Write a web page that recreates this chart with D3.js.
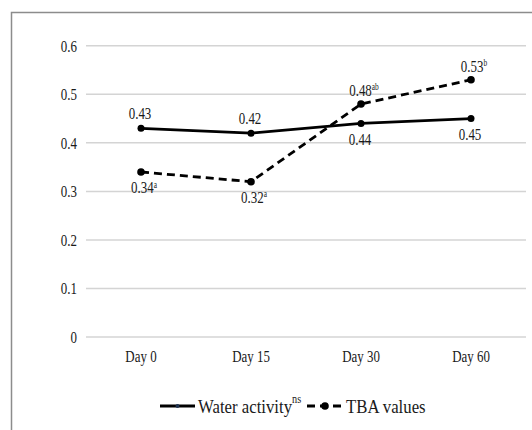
<!DOCTYPE html>
<html>
<head>
<meta charset="utf-8">
<script src="https://cdn.jsdelivr.net/npm/d3@7"></script>
<style>
  body { margin: 0; background: #fff; }
  text { font-family: "Liberation Serif", "DejaVu Serif", serif; fill: #1a1a1a; }
</style>
</head>
<body>
<div id="chartDiv"></div>
<script>
var days = ["Day 0", "Day 15", "Day 30", "Day 60"];
var waterActivity = [0.43, 0.42, 0.44, 0.45];
var tbaValues = [0.34, 0.32, 0.48, 0.53];
var tbaLetters = ["a", "a", "ab", "b"];
var yTicks = [0, 0.1, 0.2, 0.3, 0.4, 0.5, 0.6];

var width = 532, height = 430;
var fs = 17.5, sx = 0.74; // text in the picture is tall and narrow

var svg = d3.select("#chartDiv").append("svg")
	.attr("width", width).attr("height", height);

// outer frame, runs off the right and bottom edge
svg.append("rect")
	.attr("x", 11.5).attr("y", 12.5)
	.attr("width", 540).attr("height", 440)
	.attr("fill", "none").attr("stroke", "#8c8c8c").attr("stroke-width", 1.5);

var x = d3.scaleBand().domain(days).range([86, 526]);
var y = d3.scaleLinear().domain([0, 0.6]).range([337, 45.8]);
var cx = function(d) { return x(d) + x.bandwidth() / 2; };

// helper for squeezed text
function label(g, px, py, anchor, size, scaleX) {
	return g.append("text")
		.attr("transform", "translate(" + px + "," + py + ") scale(" + scaleX + ",1)")
		.attr("text-anchor", anchor)
		.style("font-size", size + "px");
}

// gridlines
svg.append("g").selectAll("line").data(yTicks).join("line")
	.attr("x1", 86).attr("x2", 526)
	.attr("y1", function(d) { return y(d); }).attr("y2", function(d) { return y(d); })
	.attr("stroke", "#d4d4d4").attr("stroke-width", 1.5);

var yAxis = svg.append("g");
yTicks.forEach(function(t) {
	label(yAxis, 77, y(t) + 5.8, "end", fs, sx).text(d3.format("")(t));
});

var xAxis = svg.append("g");
days.forEach(function(d) {
	label(xAxis, cx(d), 361.5, "middle", fs, sx).text(d);
});

var line = d3.line()
	.x(function(d, i) { return cx(days[i]); })
	.y(function(d) { return y(d); });

// water activity
svg.append("path").datum(waterActivity)
	.attr("d", line).attr("fill", "none")
	.attr("stroke", "#000").attr("stroke-width", 2.8);
svg.append("g").selectAll("circle").data(waterActivity).join("circle")
	.attr("cx", function(d, i) { return cx(days[i]); })
	.attr("cy", function(d) { return y(d); })
	.attr("r", 3.5).attr("fill", "#000");

// TBA
svg.append("path").datum(tbaValues)
	.attr("d", line).attr("fill", "none")
	.attr("stroke", "#000").attr("stroke-width", 2.8)
	.attr("stroke-dasharray", "8,5");
svg.append("g").selectAll("circle").data(tbaValues).join("circle")
	.attr("cx", function(d, i) { return cx(days[i]); })
	.attr("cy", function(d) { return y(d); })
	.attr("r", 3.8).attr("fill", "#000");

// data labels
var labels = svg.append("g");
waterActivity.forEach(function(v, i) {
	var above = i < 2;
	label(labels, cx(days[i]) - 1, y(v) + (above ? -9.5 : 21.5), "middle", fs, sx)
		.text(d3.format(".2f")(v));
});
tbaValues.forEach(function(v, i) {
	var above = i >= 2;
	var t = label(labels, cx(days[i]) + 3, y(v) + (above ? -8 : 21.5), "middle", fs, sx);
	t.append("tspan").text(d3.format(".2f")(v));
	t.append("tspan").attr("dy", -6).style("font-size", "10px").text(tbaLetters[i]);
});

// legend
var lg = svg.append("g");
lg.append("line").attr("x1", 160).attr("x2", 195).attr("y1", 406).attr("y2", 406)
	.attr("stroke", "#000").attr("stroke-width", 2.8);
lg.append("circle").attr("cx", 177.5).attr("cy", 406).attr("r", 2).attr("fill", "#1f3350");
var wt = label(lg, 198, 412.5, "start", 19.5, 0.86);
wt.append("tspan").text("Water activity");
wt.append("tspan").attr("dy", -10).style("font-size", "12px").text("ns");

lg.append("line").attr("x1", 307).attr("x2", 343).attr("y1", 406).attr("y2", 406)
	.attr("stroke", "#000").attr("stroke-width", 2.8).attr("stroke-dasharray", "8,5");
lg.append("circle").attr("cx", 325).attr("cy", 406).attr("r", 3.8).attr("fill", "#000");
label(lg, 346, 412.5, "start", 19.5, 0.86).text("TBA values");
</script>
</body>
</html>
